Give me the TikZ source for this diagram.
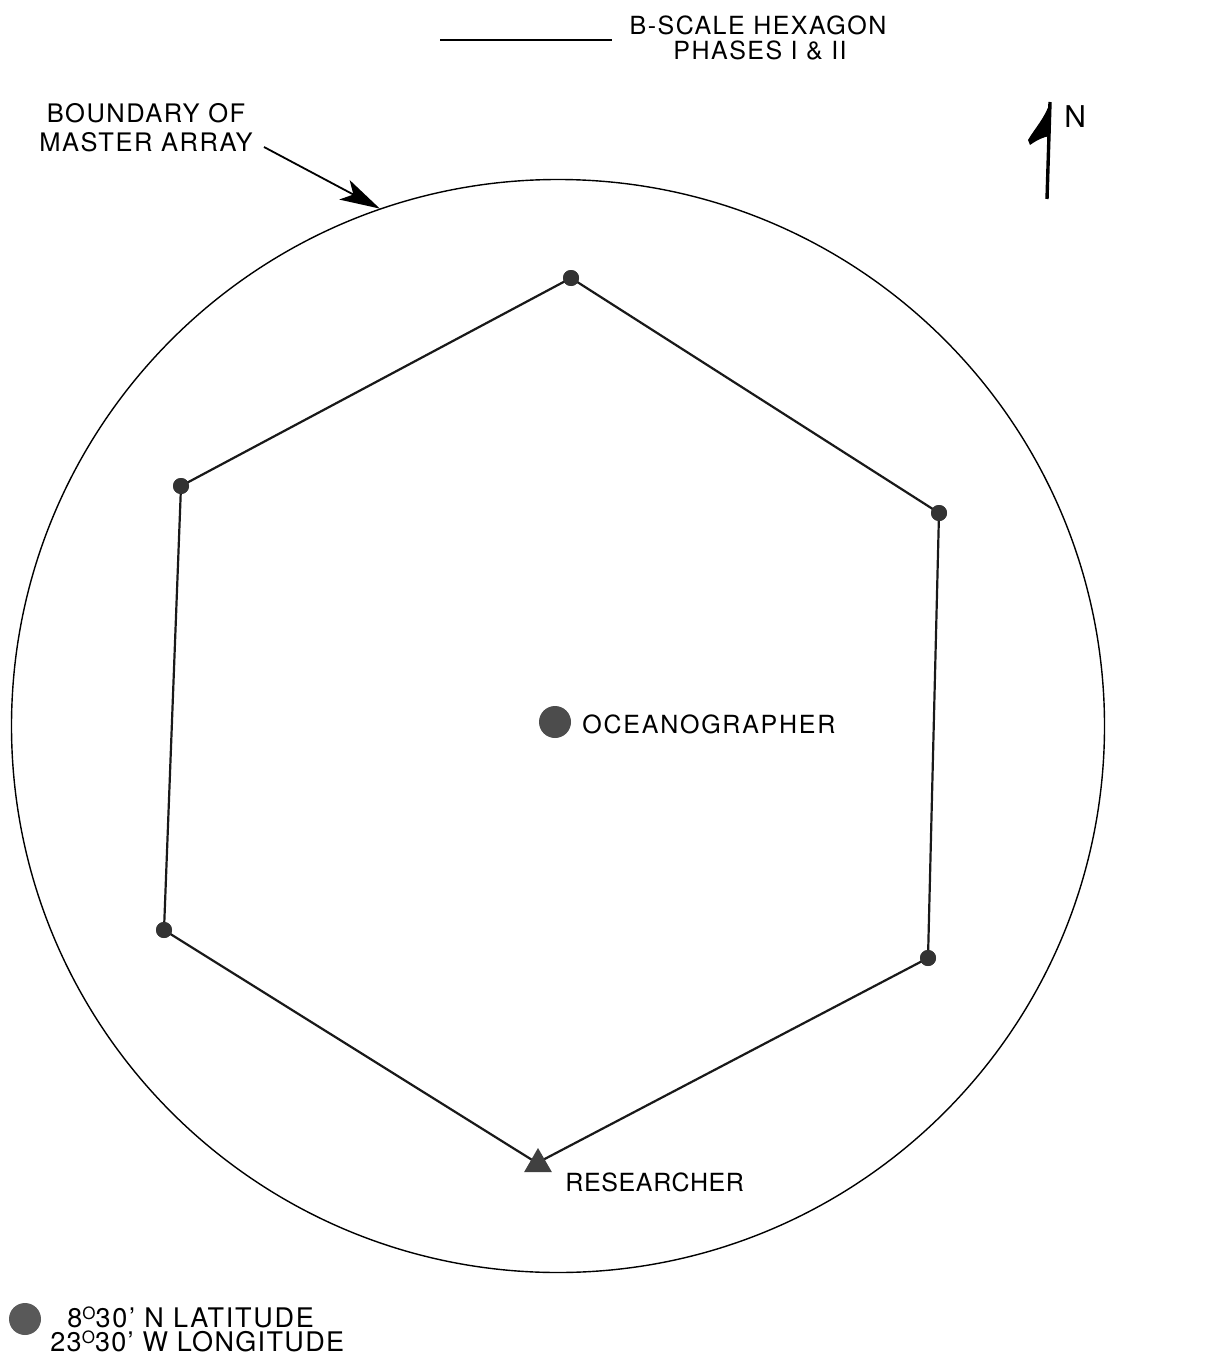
\documentclass[tikz,border=0pt]{standalone}
\usepackage{fontspec}
\setmainfont{TeX Gyre Heros}[LetterSpace=6.0]
\usetikzlibrary{arrows.meta,shapes.geometric}
\newcommand{\dg}{\raisebox{3.6pt}{\fontsize{8.5}{9}\selectfont O}}
\begin{document}
\begin{tikzpicture}[x=0.5pt,y=-0.5pt,
  lbl/.style={font=\fontsize{12.5}{15}\selectfont, inner sep=0pt},
  vdot/.style={circle, fill=black!80, inner sep=0pt, minimum size=8pt},
  bigdot/.style={circle, fill=black!70, inner sep=0pt, minimum size=16pt},
  hexline/.style={line width=1.1pt, black!90},
]
\useasboundingbox (0,0) rectangle (1230,1364);

% boundary circle
\node[circle, draw, line width=0.7pt, inner sep=0pt, minimum size=546.5pt] (arr) at (558,726) {};

% legend line and text
\coordinate (lgA) at (440,40);
\coordinate (lgB) at (612,40);
\draw[line width=1.2pt] (lgA) -- (lgB);
\node[lbl, anchor=base] (lg1) at (758,35) {B-SCALE HEXAGON};
\node[lbl, anchor=base] (lg2) at (760,60) {PHASES I \& II};

% boundary label
\node[lbl, font=\fontsize{12.75}{15}\selectfont, anchor=base] (bd1) at (146,123) {BOUNDARY OF};
\node[lbl, font=\fontsize{12.75}{15}\selectfont, anchor=base] (bd2) at (146,152) {MASTER ARRAY};
\coordinate (bdStart) at (264,147);
\draw[line width=0.9pt, -{Stealth[length=20pt,width=11pt,inset=5pt]}] (bdStart) -- (arr.109.5);

% north arrow
\coordinate (nTop) at (1050,102);
\coordinate (nBot) at (1047,199);
\draw[line width=1.7pt] (nTop) -- (nBot);
\fill (nTop) .. controls (1045,118) and (1035,128) .. (1028,140)
      -- (1030,145) .. controls (1037,140) and (1043,137) .. (1050,136) -- cycle;
\node[font=\fontsize{15}{18}\selectfont, inner sep=0pt, anchor=base west] (nlbl) at (1064,128) {N};

% hexagon vertices
\node[vdot] (v1) at (571,278) {};
\node[vdot] (v2) at (939,513) {};
\node[vdot] (v3) at (928,958) {};
\coordinate (v4) at (537,1163);
\node[vdot] (v5) at (164,930) {};
\node[vdot] (v6) at (181,486) {};
\draw[hexline] (v1.center) -- (v2.center) -- (v3.center) -- (v4) -- (v5.center) -- (v6.center) -- cycle;
\node[vdot] at (v1) {};
\node[vdot] at (v2) {};
\node[vdot] at (v3) {};
\node[vdot] at (v5) {};
\node[vdot] at (v6) {};

% researcher
\node[regular polygon, regular polygon sides=3, fill=black!75, inner sep=0pt, minimum size=16pt] (res) at (538,1164) {};
\node[lbl, font=\fontsize{12.5}{15}\selectfont\addfontfeature{LetterSpace=2.5}, anchor=base west] (reslbl) at (565,1191) {RESEARCHER};

% oceanographer
\node[bigdot] (oce) at (555,722) {};
\node[lbl, font=\fontsize{12.5}{15}\selectfont\addfontfeature{LetterSpace=7}, anchor=base west] (ocelbl) at (582,733) {OCEANOGRAPHER};

% location legend
\node[circle, fill=black!65, inner sep=0pt, minimum size=16pt] (loc) at (25,1319) {};
\node[lbl, font=\fontsize{13.5}{16}\selectfont\addfontfeature{LetterSpace=6.5}, anchor=base west] (lat) at (67,1327) {8\dg30’ N LATITUDE};
\node[lbl, font=\fontsize{13.5}{16}\selectfont\addfontfeature{LetterSpace=5}, anchor=base west] (lon) at (50,1351) {23\dg30’ W LONGITUDE};
\end{tikzpicture}
\end{document}
